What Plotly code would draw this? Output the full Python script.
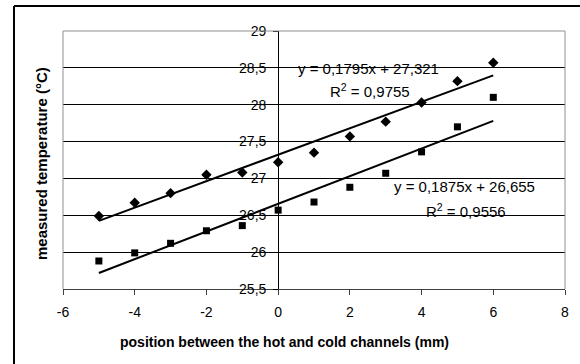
import plotly.graph_objects as go
import numpy as np

# Data
positions = [-5, -4, -3, -2, -1, 0, 1, 2, 3, 4, 5, 6]
temp_hot = [26.49, 26.67, 26.80, 27.05, 27.08, 27.22, 27.35, 27.57, 27.77, 28.03, 28.32, 28.57]
temp_cold = [25.88, 25.99, 26.12, 26.29, 26.36, 26.57, 26.68, 26.88, 27.07, 27.36, 27.70, 28.10]
fit_hot = {"slope": 0.1795, "intercept": 27.321, "r2": 0.9755}
fit_cold = {"slope": 0.1875, "intercept": 26.655, "r2": 0.9556}
x_ticks = [-6, -4, -2, 0, 2, 4, 6, 8]
y_ticks = [25.5, 26, 26.5, 27, 27.5, 28, 28.5, 29]

W, H = 580, 364
ML, MR, MT, MB = 63, 15, 31, 75
pw, ph = W - ML - MR, H - MT - MB

def lbl(v):
    return ("%g" % v).replace(".", ",")

def eq(f):
    return ("y = %.4fx + %.3f" % (f["slope"], f["intercept"])).replace(".", ",")

def r2(f):
    return ("R<sup>2</sup> = %.4f" % f["r2"]).replace(".", ",")

def px(x):  # pixel x -> paper
    return (x - ML) / pw

def py(y):  # pixel y -> paper
    return (MT + ph - y) / ph

fig = go.Figure()
xs = np.array([min(positions), max(positions)], dtype=float)
for f in (fit_hot, fit_cold):
    fig.add_trace(go.Scatter(x=xs, y=f["slope"] * xs + f["intercept"], mode="lines",
                             line=dict(color="black", width=2), showlegend=False, hoverinfo="skip"))
fig.add_trace(go.Scatter(x=positions, y=temp_hot, mode="markers",
                         marker=dict(symbol="diamond", size=8, color="black"), showlegend=False))
fig.add_trace(go.Scatter(x=positions, y=temp_cold, mode="markers",
                         marker=dict(symbol="square", size=7, color="black"), showlegend=False))

font = "Liberation Sans, Arial, sans-serif"
fig.update_layout(
    width=W, height=H,
    margin=dict(l=ML, r=MR, t=MT, b=MB, pad=0),
    paper_bgcolor="white", plot_bgcolor="white",
    font=dict(family=font, color="black", size=14),
    xaxis=dict(range=[-6, 8], tickvals=x_ticks, ticktext=[lbl(v) for v in x_ticks],
               showgrid=False, zeroline=False, showline=True, linecolor="#404040", linewidth=1,
               ticks="outside", ticklen=5, tickcolor="#404040", tickfont=dict(size=14),
               ticklabelstandoff=5),
    yaxis=dict(range=[25.5, 29], tickvals=y_ticks, ticktext=[lbl(v) for v in y_ticks],
               anchor="free", position=6 / 14, showgrid=True, gridcolor="black", gridwidth=1,
               zeroline=False, showline=True, linecolor="black", linewidth=1,
               ticks="outside", ticklen=5, tickcolor="black", tickfont=dict(size=14),
               ticklabelstandoff=4),
    shapes=[
        dict(type="path", xref="paper", yref="paper", path="M 0,0 L 0,1 L 1,1 L 1,0",
             line=dict(color="#909090", width=1), layer="above"),
        dict(type="line", xref="paper", yref="paper", x0=px(14), x1=px(14), y0=py(6), y1=py(400),
             line=dict(color="black", width=2)),
        dict(type="line", xref="paper", yref="paper", x0=px(14), x1=px(620), y0=py(6), y1=py(6),
             line=dict(color="black", width=2)),
    ],
    annotations=[
        dict(x=2.506, y=28.498, xref="x", yref="y", text=eq(fit_hot), showarrow=False,
             font=dict(size=15), xanchor="center", yanchor="middle"),
        dict(x=2.56, y=28.19, xref="x", yref="y", text=r2(fit_hot), showarrow=False,
             font=dict(size=15), xanchor="center", yanchor="middle"),
        dict(x=5.21, y=26.884, xref="x", yref="y", text=eq(fit_cold), showarrow=False,
             font=dict(size=15), xanchor="center", yanchor="middle"),
        dict(x=5.24, y=26.56, xref="x", yref="y", text=r2(fit_cold), showarrow=False,
             font=dict(size=15), xanchor="center", yanchor="middle"),
        dict(x=px(284), y=py(342), xref="paper", yref="paper",
             text="<b>position between the hot and cold channels (mm)</b>", showarrow=False,
             font=dict(size=14), xanchor="center", yanchor="middle"),
        dict(x=px(41), y=py(164), xref="paper", yref="paper",
             text="<b>measured temperature (°C)</b>", showarrow=False, textangle=-90,
             font=dict(size=15), xanchor="center", yanchor="middle"),
    ],
)

fig.write_html("out.html")
